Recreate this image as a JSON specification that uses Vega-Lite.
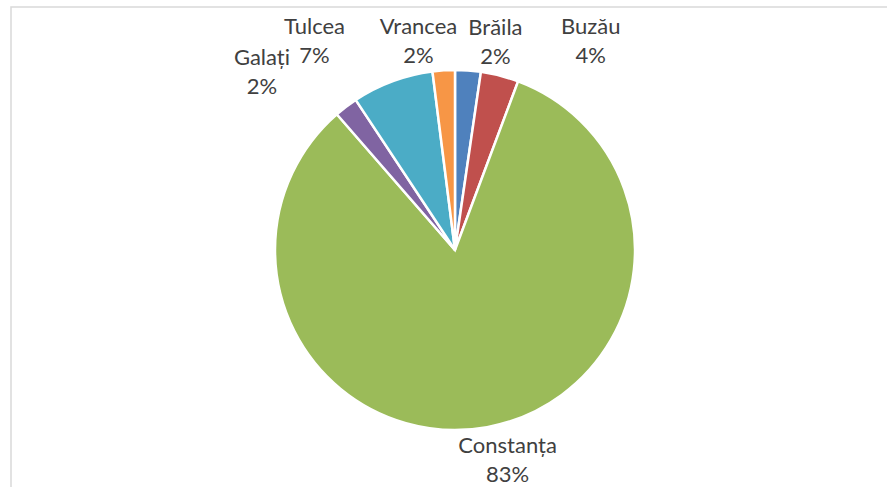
{
  "$schema": "https://vega.github.io/schema/vega-lite/v6.json",
  "autosize": "none",
  "width": 888,
  "height": 486,
  "padding": {"left": 11, "top": 7, "right": 0, "bottom": 0},
  "background": "white",
  "view": {"stroke": "#d9d9d9", "strokeWidth": 1.5},
  "config": {"view": {"stroke": "#d9d9d9", "strokeWidth": 1.5}},
  "data": {
    "values": [
      {"region": "Brăila", "value": 2.3, "label": "Brăila\n2%"},
      {"region": "Buzău", "value": 3.4, "label": "Buzău\n4%"},
      {"region": "Constanța", "value": 82.9, "label": "Constanța\n83%"},
      {"region": "Galați", "value": 2.1, "label": "Galați\n2%"},
      {"region": "Tulcea", "value": 7.3, "label": "Tulcea\n7%"},
      {"region": "Vrancea", "value": 2.0, "label": "Vrancea\n2%"}
    ]
  },
  "layer": [
    {
      "mark": {"type": "arc", "outerRadius": 180, "stroke": "white", "strokeWidth": 2.5},
      "encoding": {
        "theta": {"field": "value", "type": "quantitative", "stack": true},
        "color": {
          "field": "region",
          "type": "nominal",
          "sort": ["Brăila", "Buzău", "Constanța", "Galați", "Tulcea", "Vrancea"],
          "scale": {
            "domain": ["Brăila", "Buzău", "Constanța", "Galați", "Tulcea", "Vrancea"],
            "range": ["#4F81BD", "#C0504D", "#9BBB59", "#8064A2", "#4BACC6", "#F79646"]
          },
          "legend": null
        }
      }
    },
    {
      "mark": {
        "type": "text",
        "radius": 200,
        "font": "Lato",
        "fontSize": 22,
        "fill": "#404040",
        "align": "center",
        "baseline": "middle",
        "lineBreak": "\n",
        "lineHeight": 29,
        "dx": {"expr": "datum.region == 'Brăila' ? 26 : datum.region == 'Buzău' ? 86 : datum.region == 'Constanța' ? 17 : datum.region == 'Galați' ? -72 : datum.region == 'Tulcea' ? -71 : -24"},
        "dy": {"expr": "datum.region == 'Brăila' ? -23 : datum.region == 'Buzău' ? -29 : datum.region == 'Constanța' ? -1 : datum.region == 'Galați' ? -33 : datum.region == 'Tulcea' ? -35 : -23"}
      },
      "encoding": {
        "theta": {"field": "value", "type": "quantitative", "stack": true},
        "detail": {"field": "region", "type": "nominal"},
        "text": {"field": "label", "type": "nominal"}
      }
    }
  ]
}
